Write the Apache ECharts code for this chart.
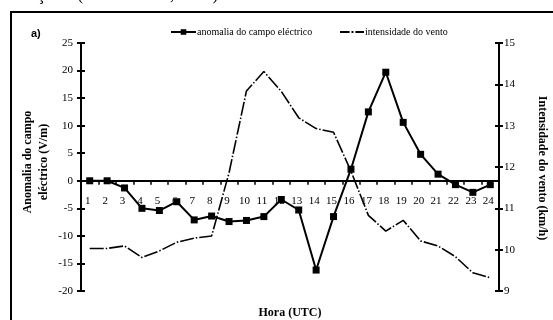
<!DOCTYPE html>
<html><head><meta charset="utf-8">
<script src="https://cdn.jsdelivr.net/npm/echarts@6/dist/echarts.min.js"></script>
<style>html,body{margin:0;padding:0;background:#fff}#c{width:553px;height:320px}</style>
</head><body><div id="c"></div>
<script>
var hours = ['1','2','3','4','5','6','7','8','9','10','11','12','13','14','15','16','17','18','19','20','21','22','23','24'];
var anomalia = [0, 0, -1.3, -5.0, -5.4, -3.8, -7.1, -6.4, -7.4, -7.2, -6.5, -3.4, -5.3, -16.2, -6.5, 2.1, 12.5, 19.7, 10.6, 4.8, 1.2, -0.7, -2.1, -0.7];
var vento = [10.03, 10.03, 10.09, 9.81, 9.97, 10.18, 10.28, 10.33, 11.86, 13.84, 14.31, 13.83, 13.19, 12.93, 12.84, 11.9, 10.83, 10.45, 10.71, 10.21, 10.09, 9.83, 9.44, 9.32];
var leftTicks = [-20, 25, 5];
var rightTicks = [9, 15, 1];
var nameA = 'anomalia do campo eléctrico';
var nameV = 'intensidade do vento';

var serif = 'Liberation Serif';
var gridTop = 43, gridBottom = 29, H = 320;
var plotH = H - gridTop - gridBottom;
var zeroOffset = -plotH * (0 - leftTicks[0]) / (leftTicks[1] - leftTicks[0]);

var chart = echarts.init(document.getElementById('c'), null, {renderer: 'canvas'});
var axisBase = {
  type: 'value', splitLine: {show: false},
  axisLine: {show: true, onZero: false, lineStyle: {color: '#000', width: 2}},
  axisTick: {show: true, length: 4, lineStyle: {color: '#000', width: 2}},
  axisLabel: {color: '#000', fontFamily: serif, fontSize: 11}
};
function yAx(pos, t, extra) {
  return Object.assign({}, axisBase, {position: pos, min: t[0], max: t[1], interval: t[2]}, extra || {});
}
chart.setOption({
  animation: false,
  grid: {left: 81, right: 54, top: gridTop, bottom: gridBottom},
  legend: [
    {left: 165, top: 22, itemWidth: 25, itemHeight: 7, data: [nameA],
     textStyle: {fontFamily: serif, fontSize: 10, color: '#000', padding: [0,0,0,-4]}},
    {left: 335, top: 22, itemWidth: 24, itemHeight: 2,
     data: [{name: nameV, icon: 'path://M0,0h10v2h-10z M12,0h2v2h-2z M16,0h9v2h-9z'}],
     textStyle: {fontFamily: serif, fontSize: 10, color: '#000', padding: [0,0,0,-4]}}
  ],
  xAxis: {
    type: 'category', data: hours, boundaryGap: true, position: 'bottom', offset: zeroOffset,
    axisLine: {show: true, onZero: false, lineStyle: {color: '#000', width: 2}},
    axisTick: {show: true, length: 4, lineStyle: {color: '#000', width: 1.5}},
    axisLabel: {color: '#000', fontFamily: serif, fontSize: 11, margin: 15, interval: 0, padding: [0, 4, 0, 0]},
    splitLine: {show: false}
  },
  yAxis: [
    yAx('left', leftTicks, {axisLabel: {color: '#000', fontFamily: serif, fontSize: 11, margin: 8}}),
    yAx('right', rightTicks, {axisLabel: {color: '#000', fontFamily: serif, fontSize: 11, margin: 5}}),
    yAx('left', leftTicks, {axisTick: {show: true, inside: true, length: 4, lineStyle: {color: '#000', width: 2}}, axisLabel: {show: false}}),
    yAx('right', rightTicks, {axisTick: {show: true, inside: true, length: 4, lineStyle: {color: '#000', width: 2}}, axisLabel: {show: false}})
  ],
  series: [
    {name: nameA, type: 'line', yAxisIndex: 0, data: anomalia, symbol: 'rect', symbolSize: 7,
     itemStyle: {color: '#000'}, lineStyle: {color: '#000', width: 2}, z: 3},
    {name: nameV, type: 'line', yAxisIndex: 1, data: vento, symbol: 'none',
     itemStyle: {color: '#000'}, lineStyle: {color: '#000', width: 1.6, type: [14, 2, 1.5, 2]}, z: 2}
  ],
  graphic: [
    {type: 'text', x: 0, y: -13, style: {text: 'em Açores (Nicolau et al, 1997).', font: '17px "Liberation Serif"', fill: '#000'}},
    {type: 'line', shape: {x1: 10, y1: 12, x2: 553, y2: 12}, style: {stroke: '#000', lineWidth: 2}},
    {type: 'line', shape: {x1: 11, y1: 11, x2: 11, y2: 320}, style: {stroke: '#000', lineWidth: 2}},
    {type: 'text', x: 31, y: 28, style: {text: 'a)', font: 'bold 11px "Liberation Sans"', fill: '#000'}},
    {type: 'text', x: 36, y: 162, rotation: Math.PI / 2,
     style: {text: 'Anomalia do campo\neléctrico (V/m)', font: 'bold 12px "Liberation Serif"', fill: '#000', align: 'center', verticalAlign: 'middle', lineHeight: 16}},
    {type: 'text', x: 542, y: 168, rotation: -Math.PI / 2,
     style: {text: 'Intensidade do vento (km/h)', font: 'bold 12px "Liberation Serif"', fill: '#000', align: 'center', verticalAlign: 'middle'}},
    {type: 'text', x: 290, y: 313,
     style: {text: 'Hora (UTC)', font: 'bold 12px "Liberation Serif"', fill: '#000', align: 'center', verticalAlign: 'middle'}}
  ]
});
</script></body></html>
